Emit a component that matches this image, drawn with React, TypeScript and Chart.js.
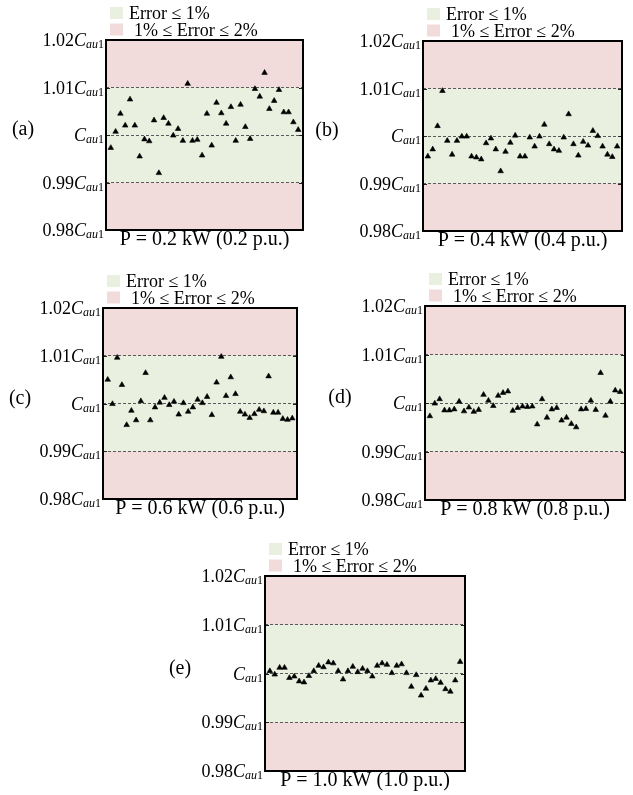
import React, { useEffect, useRef } from "react";
import { Chart, registerables } from "chart.js";

Chart.register(...registerables);

// ---------- data ----------
const SAMPLES = [
  1, 2, 3, 4, 5, 6, 7, 8, 9, 10, 11, 12, 13, 14, 15, 16, 17, 18, 19, 20,
  21, 22, 23, 24, 25, 26, 27, 28, 29, 30, 31, 32, 33, 34, 35, 36, 37, 38, 39, 40,
];

// capacitance estimate relative to C_au1
const SERIES_A = [
  0.9973, 1.0007, 1.0045, 1.002, 1.0075, 1.002, 0.9955, 0.9991, 0.9987, 1.0031,
  0.992, 1.0036, 1.0024, 0.9999, 1.0013, 0.9988, 1.0108, 0.9988, 0.999, 0.9957,
  1.0045, 0.9978, 1.0068, 1.0046, 1.0024, 1.0059, 0.9988, 1.0064, 1.0017, 0.9992,
  1.0097, 1.0081, 1.0131, 1.0055, 1.0072, 1.0095, 1.0048, 1.0048, 1.0027, 1.0011,
];
const SERIES_B = [
  0.9957, 0.9972, 1.0021, 1.0095, 0.999, 0.9961, 0.999, 0.9999, 0.9999, 0.9957,
  0.9955, 0.9951, 0.9985, 0.9995, 0.9972, 0.9926, 0.9967, 0.9986, 1.0001, 0.9957,
  0.9957, 0.9997, 0.9978, 0.9999, 1.0024, 0.9983, 0.9972, 0.9969, 0.9997, 1.0046,
  0.9983, 0.9959, 0.9988, 0.998, 1.0011, 1.0, 0.9978, 0.9961, 0.9956, 0.9978,
];
const SERIES_C = [
  1.005, 0.9999, 1.0096, 1.0039, 0.9955, 0.9985, 0.9965, 1.0005, 1.0064, 0.9965,
  0.9992, 1.0002, 1.0012, 0.9997, 1.0004, 0.9977, 1.0001, 0.9983, 0.9992, 1.0008,
  1.0001, 1.0014, 0.9976, 1.0044, 1.0098, 1.0016, 1.0055, 1.002, 0.9983, 0.9977,
  0.997, 0.9978, 0.9987, 0.9984, 1.0057, 0.9981, 0.9981, 0.9968, 0.9966, 0.9969,
];
const SERIES_D = [
  0.9973, 0.9999, 1.0008, 0.9985, 0.9985, 0.9987, 1.0003, 0.9983, 0.9991, 0.9982,
  0.9986, 1.0017, 1.0005, 0.9994, 1.0015, 1.0021, 1.0024, 0.9984, 0.999, 0.9993,
  0.9992, 0.9993, 0.9956, 1.0008, 0.997, 0.9987, 0.999, 0.9964, 0.997, 0.9957,
  0.995, 0.9987, 0.9988, 1.0005, 0.9986, 1.0062, 0.9974, 1.0003, 1.0026, 1.0023,
];
const SERIES_E = [
  1.0005, 0.9998, 1.0012, 1.0012, 0.9991, 0.9994, 0.9984, 0.9982, 0.9995, 1.0005,
  1.0016, 1.0013, 1.0023, 1.0021, 1.0005, 0.9988, 1.0005, 1.0014, 1.0003, 1.001,
  1.0005, 0.9994, 1.0016, 1.0021, 1.0018, 1.0001, 1.0016, 1.0019, 1.0001, 0.9973,
  0.9997, 0.9955, 0.9969, 0.9986, 0.9989, 0.9981, 0.9968, 0.9963, 0.9986, 1.0024,
];
const SERIES = [SERIES_A, SERIES_B, SERIES_C, SERIES_D, SERIES_E];

const PANEL_LABELS = ["(a)", "(b)", "(c)", "(d)", "(e)"];
const X_TITLES = [
  "P = 0.2 kW (0.2 p.u.)",
  "P = 0.4 kW (0.4 p.u.)",
  "P = 0.6 kW (0.6 p.u.)",
  "P = 0.8 kW (0.8 p.u.)",
  "P = 1.0 kW (1.0 p.u.)",
];
const Y_TICKS = [0.98, 0.99, 1.0, 1.01, 1.02];
const Y_TICK_PREFIX = ["0.98", "0.99", "", "1.01", "1.02"];
const LEGEND_LABELS = ["Error \u2264 1%", "1% \u2264 Error \u2264 2%"];
const GREEN_BAND = [0.99, 1.01];
const X_RANGE = [0, 41];

// ---------- styling / layout ----------
const SERIF = '"Liberation Serif", "Times New Roman", Times, serif';
const GREEN = "#eaf0df";
const PINK = "#f1dbdb";

const LAYOUTS = [
  { left: 106, top: 40, w: 197, h: 190, lab: -83 },
  { left: 423, top: 41, w: 199, h: 190, lab: -96 },
  { left: 103, top: 308, w: 194, h: 191, lab: -83 },
  { left: 425, top: 306, w: 200, h: 194, lab: -85 },
  { left: 265, top: 576, w: 200, h: 195, lab: -85 },
];
const PAD_L = 110;
const PAD_T = 40;
const PAD_R = 6;
const X_H = 24;
const PAD_B = 4;

function makeDecor(idx: number) {
  return {
    id: "decor" + idx,
    beforeDraw(chart: any) {
      const { ctx, chartArea: a, scales } = chart;
      const y = scales.y;
      ctx.save();
      ctx.fillStyle = PINK;
      ctx.fillRect(a.left, a.top, a.right - a.left, a.bottom - a.top);
      const gt = y.getPixelForValue(GREEN_BAND[1]);
      const gb = y.getPixelForValue(GREEN_BAND[0]);
      ctx.fillStyle = GREEN;
      ctx.fillRect(a.left, gt, a.right - a.left, gb - gt);
      ctx.restore();
    },
    afterDraw(chart: any) {
      const { ctx, chartArea: a, scales } = chart;
      const y = scales.y;
      ctx.save();
      // inner ticks
      ctx.strokeStyle = "#222";
      ctx.lineWidth = 1;
      Y_TICKS.forEach((v) => {
        const py = Math.round(y.getPixelForValue(v)) + 0.5;
        ctx.beginPath();
        ctx.moveTo(a.right - 4, py);
        ctx.lineTo(a.right, py);
        ctx.moveTo(a.left, py);
        ctx.lineTo(a.left + 4, py);
        ctx.stroke();
      });
      // frame
      ctx.strokeStyle = "#000";
      ctx.lineWidth = 2;
      ctx.strokeRect(a.left, a.top, a.right - a.left, a.bottom - a.top);

      // y tick labels: prefix + italic C + subscript "au1"
      ctx.fillStyle = "#000";
      ctx.textBaseline = "alphabetic";
      ctx.textAlign = "left";
      Y_TICKS.forEach((v, i) => {
        const py = y.getPixelForValue(v);
        const base = py + 6;
        const parts = [
          { t: Y_TICK_PREFIX[i], f: `18px ${SERIF}`, dy: 0 },
          { t: "C", f: `italic 18px ${SERIF}`, dy: 0 },
          { t: "au", f: `italic 12px ${SERIF}`, dy: 2 },
          { t: "1", f: `12px ${SERIF}`, dy: 2 },
        ];
        let total = 0;
        const widths = parts.map((p) => {
          ctx.font = p.f;
          const w = ctx.measureText(p.t).width;
          total += w;
          return w;
        });
        let x = a.left - 2 - total;
        parts.forEach((p, k) => {
          ctx.font = p.f;
          ctx.fillText(p.t, x, base + p.dy);
          x += widths[k];
        });
      });

      // legend
      const sx = a.left + 4;
      const rows = [
        { c: GREEN, cy: a.top - 27, tx: sx + 19, t: LEGEND_LABELS[0] },
        { c: PINK, cy: a.top - 10.5, tx: sx + 24, t: LEGEND_LABELS[1] },
      ];
      ctx.font = `18px ${SERIF}`;
      rows.forEach((r) => {
        ctx.fillStyle = r.c;
        ctx.fillRect(sx, r.cy - 6, 13, 12);
        ctx.fillStyle = "#000";
        ctx.fillText(r.t, r.tx, r.cy + 6);
      });

      // panel label
      ctx.font = `20px ${SERIF}`;
      ctx.textAlign = "center";
      ctx.textBaseline = "middle";
      ctx.fillText(PANEL_LABELS[idx], a.left + LAYOUTS[idx].lab, y.getPixelForValue(1.0) - 5);
      ctx.restore();
    },
  };
}

function Panel({ idx }: { idx: number }) {
  const ref = useRef<HTMLCanvasElement>(null);
  const L = LAYOUTS[idx];
  const cw = PAD_L + L.w + PAD_R;
  const ch = PAD_T + L.h + X_H + PAD_B;

  useEffect(() => {
    if (!ref.current) return;
    const chart = new Chart(ref.current, {
      type: "scatter",
      data: {
        datasets: [
          {
            label: "C estimate",
            data: SAMPLES.map((s, i) => ({ x: s, y: SERIES[idx][i] })),
            pointStyle: "triangle",
            pointRadius: 3.2,
            pointBackgroundColor: "#000",
            pointBorderColor: "#000",
            pointBorderWidth: 0.6,
            showLine: false,
          },
        ],
      },
      options: {
        responsive: false,
        animation: false,
        devicePixelRatio: 1,
        events: [],
        layout: { padding: { left: 0, top: PAD_T, right: PAD_R, bottom: PAD_B } },
        plugins: { legend: { display: false }, tooltip: { enabled: false } },
        scales: {
          x: {
            type: "linear",
            min: X_RANGE[0],
            max: X_RANGE[1],
            ticks: { display: false },
            grid: { display: false, drawTicks: false },
            border: { display: false },
            title: {
              display: true,
              text: X_TITLES[idx],
              color: "#000",
              font: { family: SERIF, size: 20 },
              padding: { top: 0, bottom: 2 },
            },
            afterFit: (s: any) => {
              s.height = X_H;
            },
          },
          y: {
            type: "linear",
            min: Y_TICKS[0],
            max: Y_TICKS[Y_TICKS.length - 1],
            afterBuildTicks: (s: any) => {
              s.ticks = Y_TICKS.map((v) => ({ value: v }));
            },
            ticks: { display: false },
            grid: { color: "#5a5a5a", lineWidth: 1, drawTicks: false },
            border: { display: false, dash: [3, 2] },
            afterFit: (s: any) => {
              s.width = PAD_L;
            },
          },
        },
      } as any,
      plugins: [makeDecor(idx)],
    });
    return () => chart.destroy();
  }, [idx]);

  return (
    <canvas
      ref={ref}
      width={cw}
      height={ch}
      style={{
        position: "absolute",
        left: L.left - PAD_L,
        top: L.top - PAD_T,
        width: cw,
        height: ch,
      }}
    />
  );
}

export default function App() {
  return (
    <div
      style={{
        position: "fixed",
        left: 0,
        top: 0,
        width: 633,
        height: 795,
        background: "#fff",
        overflow: "hidden",
      }}
    >
      {LAYOUTS.map((_, i) => (
        <Panel key={i} idx={i} />
      ))}
    </div>
  );
}
